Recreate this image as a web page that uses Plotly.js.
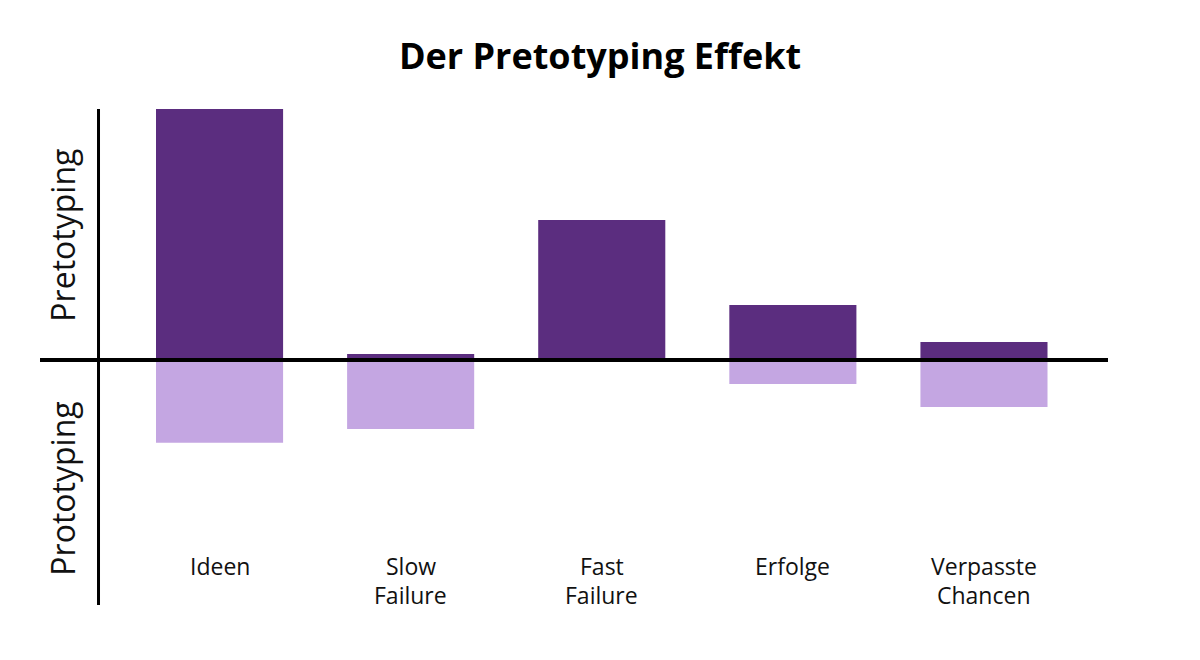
<!DOCTYPE html>
<html>
<head>
<meta charset="utf-8">
<script src="https://cdn.plot.ly/plotly-3.0.1.min.js"></script>
<style>html,body{margin:0;padding:0;background:#fff;}#chart{width:1200px;height:660px;}</style>
</head>
<body>
<div id="chart"></div>
<script>
const categories = ["Ideen", "Slow Failure", "Fast Failure", "Erfolge", "Verpasste Chancen"];
const categoryLabels = [["Ideen"], ["Slow", "Failure"], ["Fast", "Failure"], ["Erfolge"], ["Verpasste", "Chancen"]];
const pretotyping = [100, 2.4, 55.8, 21.9, 7.2];
const prototyping = [-33, -27.5, 0, -9.6, -18.7];
const axisLabels = ["Pretotyping", "Prototyping"];
const titleText = "Der Pretotyping Effekt";

const FONT = "'Open Sans', Lato, sans-serif";
const dark = "#5B2D7F";
const light = "#C4A6E2";

const traces = [
  {type: "bar", x: categories, y: pretotyping, name: axisLabels[0], marker: {color: dark}, width: 0.665, hoverinfo: "x+y"},
  {type: "bar", x: categories, y: prototyping, name: axisLabels[1], marker: {color: light}, width: 0.665, hoverinfo: "x+y"}
];

// pixel-y to paper coords: plot top 109, bottom 605
const py = v => (605 - v) / (605 - 109);

const annotations = [];
categoryLabels.forEach((lines, i) => {
  lines.forEach((t, j) => {
    annotations.push({x: categories[i], y: py(566 + 29 * j), xref: "x", yref: "paper", text: t, showarrow: false,
      font: {family: FONT, size: 23, color: "#111"}, xanchor: "center", yanchor: "middle"});
  });
});
annotations.push({x: -0.036, y: py(235), xref: "paper", yref: "paper", text: axisLabels[0], textangle: -90,
  showarrow: false, font: {family: FONT, size: 32, color: "#111"}, xanchor: "center", yanchor: "middle"});
annotations.push({x: -0.036, y: py(489), xref: "paper", yref: "paper", text: axisLabels[1], textangle: -90,
  showarrow: false, font: {family: FONT, size: 32, color: "#111"}, xanchor: "center", yanchor: "middle"});

const layout = {
  width: 1200, height: 660,
  paper_bgcolor: "#fff", plot_bgcolor: "#fff",
  margin: {l: 98, r: 92, t: 109, b: 55},
  title: {text: "<b>" + titleText + "</b>", x: 0.5, xanchor: "center", y: 0.914, yanchor: "middle",
    font: {family: FONT, size: 36, color: "#000"}},
  showlegend: false,
  barmode: "relative",
  xaxis: {type: "category", range: [-0.636, 4.649], showticklabels: false, showgrid: false, zeroline: false, showline: false, ticks: ""},
  yaxis: {range: [-97.6, 100], showticklabels: false, showgrid: false, zeroline: false, showline: false, ticks: ""},
  shapes: [
    {type: "line", xref: "paper", yref: "paper", x0: 0.0005, x1: 0.0005, y0: 0, y1: 1, line: {color: "#000", width: 3}, layer: "above"},
    {type: "line", xref: "paper", yref: "y", x0: -58 / 1010, x1: 1, y0: 0, y1: 0, line: {color: "#000", width: 4}, layer: "above"}
  ],
  annotations: annotations
};

Plotly.newPlot("chart", traces, layout, {displayModeBar: false, staticPlot: true});
</script>
</body>
</html>
